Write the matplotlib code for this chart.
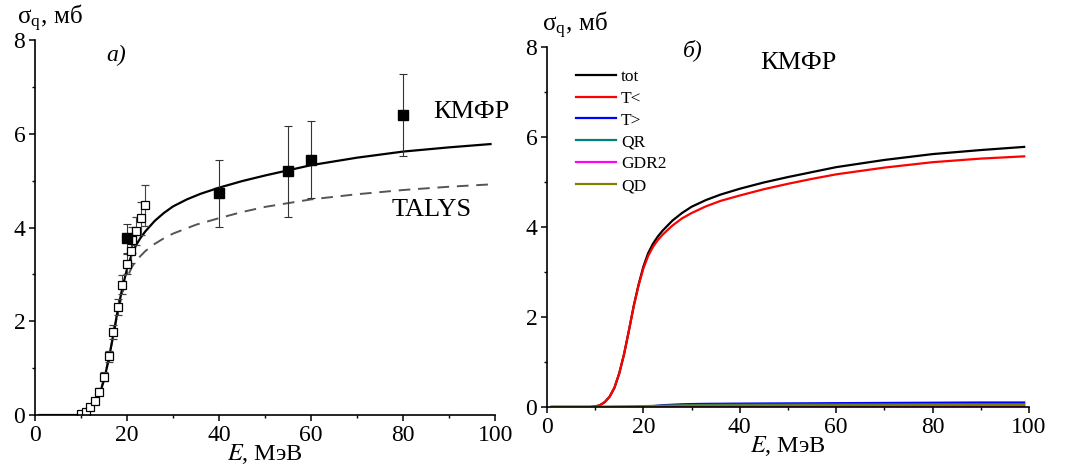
import matplotlib
matplotlib.use("Agg")
import matplotlib.pyplot as plt
from matplotlib.ticker import MultipleLocator

plt.rcParams['font.family'] = ['Liberation Serif', 'DejaVu Serif']
plt.rcParams['mathtext.fontset'] = 'stix'

# model curves
E_model = [1, 9, 10, 11, 12, 13, 14, 15, 16, 17, 18, 19, 20, 21, 22, 23, 24, 26, 28, 30,
           33, 36, 40, 45, 50, 55, 60, 70, 80, 90, 99]
tot = [0, 0, 0.01, 0.04, 0.11, 0.23, 0.43, 0.75, 1.18, 1.7, 2.25, 2.72, 3.12, 3.42, 3.63,
       3.79, 3.92, 4.14, 4.31, 4.45, 4.6, 4.72, 4.85, 4.99, 5.11, 5.22, 5.33, 5.49, 5.62, 5.71, 5.78]
t_less = [0, 0, 0.01, 0.04, 0.11, 0.23, 0.43, 0.75, 1.18, 1.7, 2.24, 2.7, 3.08, 3.36, 3.56,
          3.71, 3.83, 4.03, 4.19, 4.31, 4.46, 4.58, 4.7, 4.84, 4.96, 5.07, 5.17, 5.32, 5.44, 5.52, 5.57]
t_more = [0, 0, 0, 0, 0, 0, 0, 0, 0, 0, 0, 0.005, 0.01, 0.015, 0.02, 0.03, 0.04, 0.05, 0.06,
          0.065, 0.07, 0.072, 0.075, 0.078, 0.08, 0.082, 0.085, 0.09, 0.095, 0.1, 0.1]
qr = [0, 0, 0, 0, 0, 0, 0, 0, 0, 0, 0, 0.003, 0.006, 0.01, 0.015, 0.02, 0.025, 0.03, 0.035,
      0.04, 0.045, 0.048, 0.05, 0.052, 0.054, 0.056, 0.058, 0.06, 0.062, 0.064, 0.065]
gdr2 = [0, 0, 0, 0, 0, 0, 0, 0, 0, 0, 0, 0, 0.001, 0.002, 0.002, 0.003, 0.003, 0.004, 0.004,
        0.005, 0.005, 0.005, 0.006, 0.006, 0.006, 0.007, 0.007, 0.007, 0.008, 0.008, 0.008]
qd = [0, 0, 0, 0.002, 0.004, 0.006, 0.008, 0.01, 0.012, 0.014, 0.016, 0.018, 0.02, 0.022,
      0.024, 0.025, 0.026, 0.028, 0.03, 0.031, 0.032, 0.033, 0.034, 0.035, 0.036, 0.037,
      0.038, 0.039, 0.04, 0.041, 0.042]

E_talys = [1, 9, 10, 11, 12, 13, 14, 15, 16, 17, 18, 19, 20, 21, 22, 24, 26, 28, 30, 35,
           40, 45, 50, 55, 60, 70, 80, 90, 99]
talys = [0, 0, 0.01, 0.04, 0.11, 0.24, 0.45, 0.77, 1.2, 1.7, 2.2, 2.6, 2.92, 3.15, 3.3, 3.5,
         3.65, 3.77, 3.87, 4.06, 4.2, 4.33, 4.44, 4.52, 4.6, 4.71, 4.8, 4.87, 4.92]

# experiment
E_open = [10, 11, 12, 13, 14, 15, 16, 17, 18, 19, 20, 20.8, 21, 22, 23, 24]
s_open = [0.02, 0.07, 0.17, 0.3, 0.5, 0.82, 1.25, 1.77, 2.3, 2.78, 3.22, 3.5, 3.73, 3.92, 4.2, 4.47]
err_open = [0.03, 0.04, 0.05, 0.06, 0.08, 0.1, 0.12, 0.15, 0.17, 0.2, 0.22, 0.25, 0.28, 0.3, 0.35, 0.43]

E_full = [20, 40, 55, 60, 80]
s_full = [3.77, 4.73, 5.2, 5.45, 6.4]
err_full = [0.31, 0.72, 0.97, 0.83, 0.88]

fig = plt.figure(figsize=(10.65, 4.69), dpi=100)
ax1 = fig.add_axes([0.0329, 0.1151, 0.432, 0.7996])
ax2 = fig.add_axes([0.5136, 0.1322, 0.4526, 0.7676])


def style(ax):
    ax.set_xlim(0, 100)
    ax.set_ylim(0, 8)
    ax.spines['top'].set_visible(False)
    ax.spines['right'].set_visible(False)
    ax.spines['left'].set_linewidth(1.2)
    ax.spines['bottom'].set_linewidth(1.2)
    ax.xaxis.set_major_locator(MultipleLocator(20))
    ax.xaxis.set_minor_locator(MultipleLocator(10))
    ax.yaxis.set_major_locator(MultipleLocator(2))
    ax.yaxis.set_minor_locator(MultipleLocator(1))
    ax.tick_params(which='major', direction='out', length=4, width=1.1, labelsize=17, pad=3)
    ax.tick_params(which='minor', direction='out', length=2.5, width=1.0)
    ax.set_xlabel('$E$, МэВ', fontsize=17.5, labelpad=-3)


style(ax1)
ax1.plot(E_talys, talys, color='#555555', lw=1.4, dashes=(6, 4))
ax1.plot(E_model, tot, color='black', lw=1.6)
ax1.errorbar(E_open, s_open, yerr=err_open, fmt='s', ms=6, mfc='white', mec='black', mew=0.9,
             ecolor='#444444', elinewidth=0.8, capsize=3, capthick=0.8)
ax1.errorbar(E_full, s_full, yerr=err_full, fmt='s', ms=6.5, mfc='black', mec='black',
             ecolor='#333333', elinewidth=0.8, capsize=3, capthick=0.8)
ax1.text(86.5, 6.46, 'КМФР', fontsize=19, va='center')
ax1.text(77.5, 4.37, 'TALYS', fontsize=19, va='center')
ax1.text(15.5, 7.68, 'а)', fontsize=17, style='italic', va='center')

style(ax2)
ax2.plot(E_model, tot, color='black', lw=1.6, label='tot')
ax2.plot(E_model, t_less, color='red', lw=1.6, label='T<')
ax2.plot(E_model, t_more, color='blue', lw=1.6, label='T>')
ax2.plot(E_model, qr, color='#008080', lw=1.6, label='QR')
ax2.plot(E_model, gdr2, color='magenta', lw=1.6, label='GDR2')
ax2.plot(E_model, qd, color='#808000', lw=1.6, label='QD')
ax2.legend(loc='upper left', bbox_to_anchor=(0.06, 0.94), frameon=False, fontsize=12.5,
           handlelength=2.3, handletextpad=0.3, labelspacing=0.33, borderaxespad=0,
           borderpad=0)
ax2.text(28.2, 7.93, 'б)', fontsize=17, style='italic', va='center')
ax2.text(44.2, 7.64, 'КМФР', fontsize=19, va='center')

fig.text(17 / 1065, 1 - 24 / 469, r'σ$_\mathregular{q}$, мб', fontsize=18, va='baseline')
fig.text(542 / 1065, 1 - 31 / 469, r'σ$_\mathregular{q}$, мб', fontsize=18, va='baseline')

fig.savefig('out.png', dpi=100)
